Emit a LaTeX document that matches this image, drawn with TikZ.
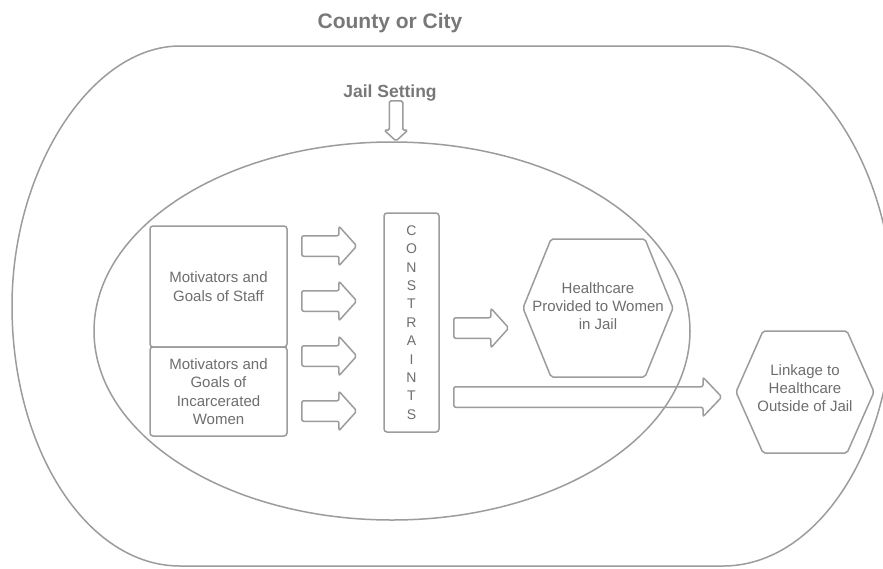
\documentclass[tikz,border=0pt]{standalone}
\usepackage{fontspec}
\setmainfont{Liberation Sans}
\usetikzlibrary{shapes.arrows,shapes.geometric}
\definecolor{edge}{HTML}{9C9C9C}
\definecolor{ink}{HTML}{6E6E6E}
\definecolor{headink}{HTML}{787878}

\begin{document}
\begin{tikzpicture}[x=1pt,y=-1pt,
  shapeline/.style={draw=edge, line width=1.5pt},
  panel/.style={shapeline, rounded corners=3pt, inner sep=0pt},
  txt/.style={text=ink, font=\fontsize{15}{18.3}\selectfont, align=center},
  heading/.style={text=headink, font=\bfseries\fontsize{#1}{#1}\selectfont},
  blockarrow/.style={single arrow, draw=edge, line width=1.5pt, inner sep=9.5pt,
    minimum width=38pt, single arrow head extend=9.5pt,
    single arrow tip angle=96, rounded corners=2pt, anchor=tail}]

\useasboundingbox (0,0) rectangle (883,568);
\fill[white] (0,0) rectangle (883,568);
\clip (0,0) rectangle (883,568);

% county / city boundary
\draw[shapeline] (180,46) -- (723,46)
  .. controls (812,46) and (893,168) .. (893,306)
  .. controls (893,449.6) and (816.9,566) .. (723,566)
  -- (180,566)
  .. controls (87.2,566) and (12,449.6) .. (12,306)
  .. controls (12,168) and (92,46) .. (180,46) -- cycle;
\node[heading=21] (county) at (390,23) {County or City};

% jail setting
\node[ellipse, shapeline, inner sep=0pt, minimum width=596pt, minimum height=378pt]
  (jail) at (392,331) {};
\node[heading=17.5] (jaillabel) at (390,93) {Jail Setting};
\node[single arrow, draw=edge, line width=1.5pt, inner sep=6pt,
  minimum width=22pt, single arrow head extend=5pt, single arrow tip angle=95,
  minimum height=40pt, shape border rotate=270, rounded corners=1.5pt, anchor=tip]
  (down) at (396,142) {};

% motivators
\node[panel, minimum width=137pt, minimum height=121pt, txt] (staff) at (218.5,286.5)
  {Motivators and\\Goals of Staff};
\node[panel, minimum width=137pt, minimum height=89pt, txt] (women) at (218.5,391.5)
  {Motivators and\\Goals of\\Incarcerated\\Women};

% arrows into constraints
\node[blockarrow, minimum height=55pt] (a1) at (301,246) {};
\node[blockarrow, minimum height=55pt] (a2) at (301,301) {};
\node[blockarrow, minimum height=55pt] (a3) at (301,356) {};
\node[blockarrow, minimum height=55pt] (a4) at (301,411) {};

% constraints column
\node[panel, minimum width=55pt, minimum height=219pt, text=ink,
  font=\fontsize{14}{18.4}\selectfont, align=center] (cons) at (411.5,322.5)
  {C\\O\\N\\S\\T\\R\\A\\I\\N\\T\\S};

% healthcare in jail
\node[txt] (care) at (598,306) {Healthcare\\Provided to Women\\in Jail};
\draw[shapeline, rounded corners=2pt, shift={(care.center)}]
  (-75,2) -- (-47,-67) -- (47,-67) -- (75,2) -- (47,71) -- (-47,71) -- cycle;
\node[blockarrow, minimum height=55pt] (a5) at (453,328) {};

% linkage outside jail
\node[txt] (link) at (805,388) {Linkage to\\Healthcare\\Outside of Jail};
\draw[shapeline, rounded corners=2pt, shift={(link.center)}]
  (-69,4) -- (-42,-57) -- (42,-57) -- (69,4) -- (42,65) -- (-42,65) -- cycle;
\node[blockarrow, minimum height=268pt, single arrow tip angle=93] (a6) at (453,397) {};

\end{tikzpicture}
\end{document}
